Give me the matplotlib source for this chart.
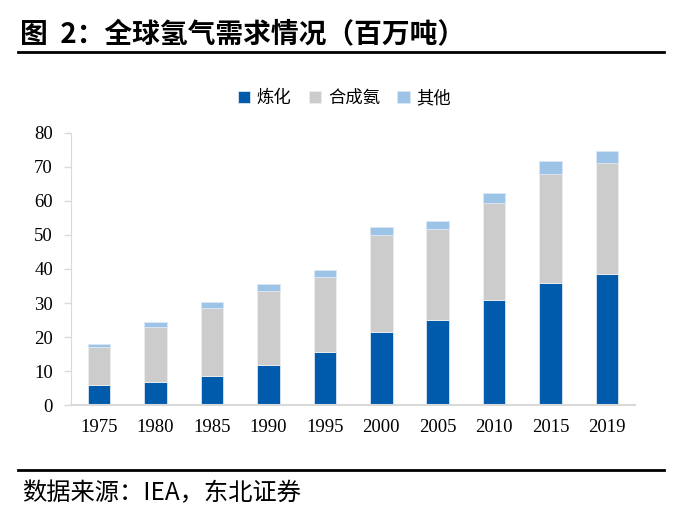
import numpy as np
import matplotlib
matplotlib.use('Agg')
from matplotlib import pyplot as plt
from matplotlib.lines import Line2D

plt.rcParams['font.family'] = ['Noto Sans CJK SC', 'DejaVu Sans']

years = ['1975', '1980', '1985', '1990', '1995', '2000', '2005', '2010', '2015', '2019']
refining = [6.0, 6.7, 8.5, 11.9, 15.7, 21.4, 25.1, 30.9, 35.9, 38.4]
ammonia = [11.1, 16.2, 20.1, 21.5, 22.0, 28.7, 26.5, 28.5, 32.1, 32.7]
other = [0.9, 1.6, 1.8, 2.1, 2.1, 2.3, 2.5, 3.0, 3.8, 3.4]
series_names = ['炼化', '合成氨', '其他']
yticks = [0, 10, 20, 30, 40, 50, 60, 70, 80]

colors = ['#005bac', '#cccccc', '#9dc3e6']

fig = plt.figure(figsize=(6.89, 5.31), dpi=100)
ax = fig.add_axes([0.103, 0.237, 0.819, 0.513])

x = np.arange(len(years))
bar_width = 0.4
bottom2 = np.array(refining) + np.array(ammonia)

b1 = ax.bar(x, refining, bar_width, color=colors[0], edgecolor='#dbe6f2', linewidth=0.6,
            label=series_names[0])
b2 = ax.bar(x, ammonia, bar_width, bottom=refining, color=colors[1], edgecolor='#eeeeee',
            linewidth=0.6, label=series_names[1])
b3 = ax.bar(x, other, bar_width, bottom=bottom2, color=colors[2], edgecolor='#dbe6f2',
            linewidth=0.6, label=series_names[2])

ax.set_xlim(-0.5, len(years) - 0.5)
ax.set_ylim(0, 80)
ax.set_yticks(yticks)
ax.set_xticks(x)
ax.set_xticklabels(years)

for lab in ax.get_xticklabels() + ax.get_yticklabels():
    lab.set_fontfamily('Liberation Serif')
    lab.set_fontsize(13.5)

ax.tick_params(axis='x', length=0, pad=10)
ax.tick_params(axis='y', length=5, color='#d9d9d9', width=1, pad=8)

for side in ['top', 'right']:
    ax.spines[side].set_visible(False)
ax.spines['left'].set_color('#d9d9d9')
ax.spines['bottom'].set_color('#d9d9d9')
ax.spines['bottom'].set_linewidth(1.5)

ax.legend(loc='center', bbox_to_anchor=(0.5, 0.815), bbox_transform=fig.transFigure,
          ncol=3, frameon=False, fontsize=12.5, handlelength=0.7, handleheight=0.7,
          handletextpad=0.4, columnspacing=1.0)

# title and source
fig.text(0.029, 0.934, '图  2：全球氢气需求情况（百万吨）', fontsize=20, fontweight='bold',
         ha='left', va='center')
fig.add_artist(Line2D([0.026, 0.963], [0.902, 0.902], color='black', linewidth=2,
                      transform=fig.transFigure))
fig.add_artist(Line2D([0.026, 0.963], [0.115, 0.115], color='black', linewidth=2,
                      transform=fig.transFigure))
fig.text(0.032, 0.072, '数据来源：IEA，东北证券', fontsize=17.5, ha='left', va='center')

plt.savefig('out.png', dpi=100)
